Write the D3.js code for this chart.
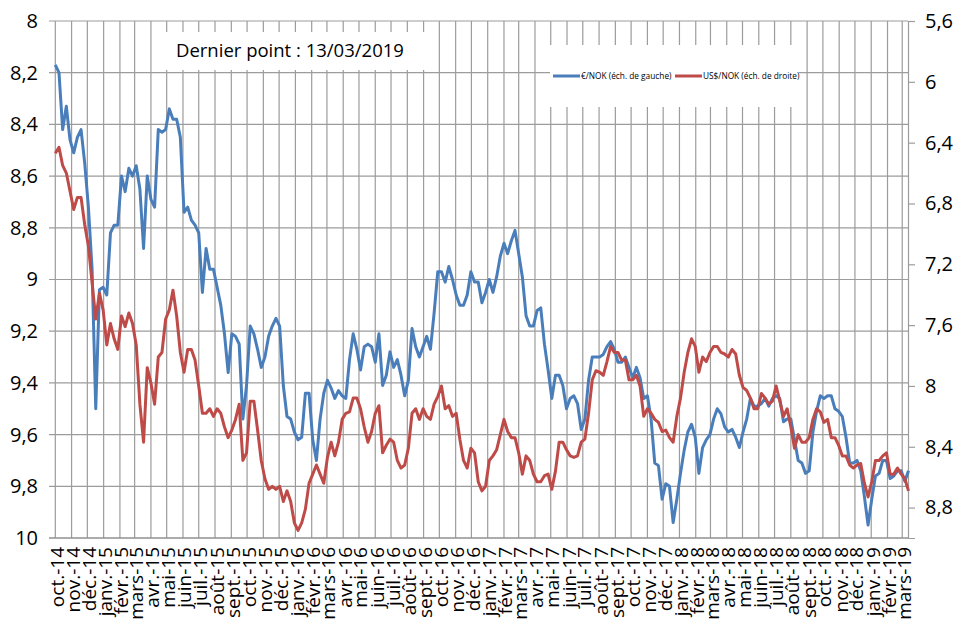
<!DOCTYPE html>
<html>
<head>
<meta charset="utf-8">
<script src="https://cdn.jsdelivr.net/npm/d3@7"></script>
<style>
  body { margin: 0; background: #fff; }
  svg { display: block; font-family: "Open Sans", "Noto Sans", sans-serif; }
</style>
</head>
<body>
<div id="chart"></div>
<script>
// weekly readings (Wednesdays), from 01/10/2014 to 13/03/2019
var startDate = Date.UTC(2014, 9, 1)
var stepDays = 7

// €/NOK, left scale (inverted)
var eurnok = [8.17,8.20,8.42,8.33,8.46,8.51,8.45,8.42,8.55,8.72,
  8.96,9.50,9.04,9.03,9.06,8.82,8.79,8.79,8.60,8.66,
  8.57,8.60,8.56,8.65,8.88,8.60,8.69,8.72,8.42,8.43,
  8.42,8.34,8.38,8.38,8.45,8.74,8.72,8.77,8.79,8.82,
  9.05,8.88,8.96,8.96,9.03,9.10,9.21,9.36,9.21,9.22,
  9.25,9.54,9.41,9.18,9.21,9.27,9.34,9.30,9.22,9.18,
  9.15,9.18,9.41,9.53,9.54,9.59,9.62,9.61,9.44,9.44,
  9.62,9.70,9.54,9.44,9.39,9.42,9.46,9.43,9.45,9.46,
  9.31,9.21,9.27,9.35,9.26,9.25,9.26,9.32,9.21,9.41,
  9.37,9.28,9.34,9.31,9.37,9.45,9.39,9.19,9.26,9.30,
  9.26,9.22,9.27,9.13,8.97,8.97,9.01,8.95,9.00,9.06,
  9.10,9.10,9.06,8.97,9.01,9.01,9.09,9.05,9.00,9.05,
  8.99,8.91,8.86,8.90,8.85,8.81,8.90,8.99,9.14,9.18,
  9.18,9.12,9.11,9.25,9.35,9.46,9.37,9.37,9.41,9.50,
  9.46,9.45,9.48,9.58,9.54,9.39,9.30,9.30,9.30,9.29,
  9.26,9.24,9.27,9.32,9.32,9.30,9.34,9.38,9.34,9.38,
  9.46,9.45,9.54,9.71,9.72,9.85,9.79,9.80,9.94,9.85,
  9.75,9.66,9.59,9.56,9.61,9.75,9.65,9.62,9.60,9.54,
  9.50,9.52,9.57,9.59,9.58,9.61,9.65,9.59,9.54,9.46,
  9.49,9.49,9.48,9.46,9.49,9.46,9.45,9.46,9.55,9.54,
  9.54,9.62,9.70,9.71,9.75,9.74,9.59,9.51,9.45,9.46,
  9.45,9.45,9.50,9.51,9.53,9.61,9.71,9.71,9.70,9.74,
  9.84,9.95,9.85,9.76,9.75,9.70,9.70,9.77,9.76,9.74,
  9.74,9.78,9.74]

// US$/NOK, right scale (inverted)
var usdnok = [6.47,6.43,6.55,6.60,6.72,6.84,6.76,6.76,6.94,7.08,
  7.32,7.56,7.39,7.50,7.73,7.59,7.69,7.76,7.54,7.61,
  7.52,7.59,7.73,8.12,8.37,7.88,7.98,8.12,7.81,7.78,
  7.56,7.50,7.37,7.54,7.78,7.91,7.76,7.76,7.83,8.00,
  8.18,8.18,8.15,8.20,8.15,8.18,8.27,8.34,8.29,8.22,
  8.12,8.49,8.44,8.10,8.10,8.29,8.49,8.61,8.68,8.66,
  8.68,8.66,8.76,8.69,8.76,8.90,8.95,8.90,8.81,8.64,
  8.58,8.52,8.58,8.64,8.47,8.37,8.46,8.37,8.22,8.18,
  8.17,8.08,8.08,8.15,8.27,8.37,8.30,8.18,8.13,8.44,
  8.39,8.35,8.37,8.49,8.54,8.52,8.41,8.18,8.15,8.22,
  8.15,8.20,8.22,8.12,8.07,8.00,8.15,8.13,8.20,8.18,
  8.35,8.49,8.54,8.41,8.44,8.63,8.69,8.66,8.49,8.46,
  8.42,8.32,8.22,8.30,8.34,8.34,8.44,8.58,8.46,8.49,
  8.58,8.63,8.63,8.59,8.58,8.68,8.56,8.37,8.37,8.42,
  8.46,8.47,8.46,8.37,8.35,8.18,7.96,7.90,7.91,7.93,
  7.84,7.74,7.78,7.78,7.83,7.83,7.96,7.96,7.93,8.00,
  8.20,8.15,8.18,8.22,8.24,8.30,8.29,8.34,8.37,8.20,
  8.08,7.91,7.78,7.69,7.74,7.91,7.81,7.84,7.78,7.74,
  7.74,7.78,7.79,7.81,7.76,7.79,7.93,8.01,8.03,8.08,
  8.15,8.15,8.05,8.08,8.12,8.10,8.00,8.10,8.20,8.15,
  8.27,8.41,8.32,8.37,8.37,8.34,8.22,8.15,8.17,8.24,
  8.22,8.34,8.34,8.39,8.46,8.46,8.52,8.54,8.52,8.51,
  8.64,8.73,8.63,8.49,8.49,8.46,8.44,8.58,8.58,8.54,
  8.58,8.61,8.69]

var leftTicks = [8, 8.2, 8.4, 8.6, 8.8, 9, 9.2, 9.4, 9.6, 9.8, 10]
var rightTicks = [5.6, 6, 6.4, 6.8, 7.2, 7.6, 8, 8.4, 8.8]
var monthNames = ["janv.", "févr.", "mars", "avr.", "mai", "juin", "juil.", "août", "sept.", "oct.", "nov.", "déc."]
var seriesNames = ["€/NOK (éch. de gauche)", "US$/NOK (éch. de droite)"]
var titleText = "Dernier point : 13/03/2019"

var width = 957, height = 621
var plotL = 49, plotR = 908, plotT = 21, plotB = 538
var blue = "#4a7ebb", red = "#be4b48", grid = "#9c9c9c"

var rows = eurnok.map(function(v, i) {
  return { date: new Date(startDate + i * stepDays * 864e5), eur: v, usd: usdnok[i] }
})

var x = d3.scaleUtc()
  .domain([new Date(Date.UTC(2014, 8, 19)), new Date(Date.UTC(2019, 2, 12))])
  .range([plotL, plotR])
var yL = d3.scaleLinear().domain([8, 10]).range([plotT, plotB])
var yR = d3.scaleLinear().domain([5.6, 9.0]).range([plotT, plotB])

var comma = function(v) { return String(+v.toFixed(1)).replace(".", ",") }
var months = d3.utcMonth.range(new Date(Date.UTC(2014, 9, 1)), new Date(Date.UTC(2019, 2, 2)))

var svg = d3.select("#chart").append("svg")
  .attr("width", width)
  .attr("height", height)
svg.append("rect").attr("width", width).attr("height", height).attr("fill", "#fff")

// gridlines
svg.append("g").selectAll("line")
  .data(leftTicks)
  .enter().append("line")
  .attr("x1", plotL).attr("x2", plotR)
  .attr("y1", d => yL(d)).attr("y2", d => yL(d))
  .attr("stroke", grid).attr("stroke-width", 1.2)
svg.append("g").selectAll("line")
  .data(months)
  .enter().append("line")
  .attr("x1", d => x(d)).attr("x2", d => x(d))
  .attr("y1", plotT).attr("y2", plotB)
  .attr("stroke", grid).attr("stroke-width", 1.2)

// left axis (labels only)
var axL = svg.append("g")
  .attr("transform", `translate(${plotL},0)`)
  .call(d3.axisLeft(yL).tickValues(leftTicks).tickSize(0).tickPadding(11).tickFormat(comma))
axL.select(".domain").remove()
axL.selectAll("text").style("font-size", "20px").style("font-family", "Open Sans").attr("fill", "#000")

// right axis
var axR = svg.append("g")
  .attr("transform", `translate(${plotR},0)`)
  .call(d3.axisRight(yR).tickValues(rightTicks).tickSize(7).tickPadding(10).tickFormat(comma))
axR.select(".domain").attr("stroke", grid).attr("stroke-width", 1.2)
axR.selectAll(".tick line").attr("stroke", grid).attr("stroke-width", 1.2)
axR.selectAll("text").style("font-size", "20px").style("font-family", "Open Sans").attr("fill", "#000")

// bottom axis, rotated month labels
var axB = svg.append("g")
  .attr("transform", `translate(0,${plotB})`)
  .call(d3.axisBottom(x).tickValues(months).tickSize(0)
    .tickFormat(d => monthNames[d.getUTCMonth()] + "-" + String(d.getUTCFullYear()).slice(2)))
axB.select(".domain").attr("stroke", "#8c8c8c").attr("stroke-width", 1.2).attr("d", `M${plotL},0H${plotR}`)
axB.selectAll("text")
  .attr("transform", "rotate(-90)")
  .attr("text-anchor", "end")
  .attr("x", -9).attr("y", 0).attr("dy", "0.42em")
  .style("font-size", "19px").style("font-family", "Open Sans").attr("fill", "#000")

// series
var lineEur = d3.line().x(d => x(d.date)).y(d => yL(d.eur))
var lineUsd = d3.line().x(d => x(d.date)).y(d => yR(d.usd))
svg.append("path").datum(rows)
  .attr("d", lineEur).attr("fill", "none")
  .attr("stroke", blue).attr("stroke-width", 3).attr("stroke-linejoin", "round")
svg.append("path").datum(rows)
  .attr("d", lineUsd).attr("fill", "none")
  .attr("stroke", red).attr("stroke-width", 3).attr("stroke-linejoin", "round")

// title box
svg.append("rect").attr("x", 165).attr("y", 32).attr("width", 268).attr("height", 38).attr("fill", "#fff")
svg.append("text").attr("x", 176).attr("y", 57)
  .style("font-size", "18.5px").attr("fill", "#000")
  .text(titleText)

// legend
var lg = svg.append("g")
lg.append("rect").attr("x", 550).attr("y", 45).attr("width", 249).attr("height", 62).attr("fill", "#fff")
var items = [{ name: seriesNames[0], color: blue, x: 553 }, { name: seriesNames[1], color: red, x: 675 }]
items.forEach(function(it) {
  lg.append("line").attr("x1", it.x).attr("x2", it.x + 27).attr("y1", 76).attr("y2", 76)
    .attr("stroke", it.color).attr("stroke-width", 3)
  lg.append("text").attr("x", it.x + 28).attr("y", 79)
    .style("font-size", "8.3px").attr("fill", "#000")
    .text(it.name)
})
</script>
</body>
</html>
